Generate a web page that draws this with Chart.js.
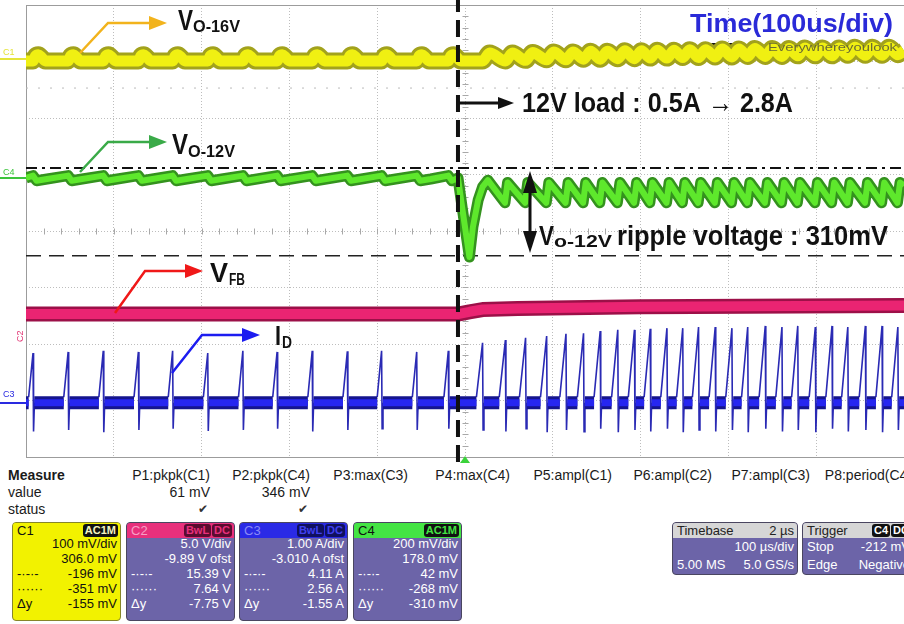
<!DOCTYPE html>
<html>
<head>
<meta charset="utf-8">
<script src="https://cdn.jsdelivr.net/npm/chart.js@4.4.1/dist/chart.umd.min.js"></script>
<style>
  body { margin: 0; width: 904px; height: 624px; overflow: hidden; background: #fff; position: relative;
         font-family: 'Liberation Sans', Arial, sans-serif; }
  #scope { position: absolute; left: 0; top: 0; }
  .lbl { position: absolute; font-size: 14px; line-height: 16px; color: #1a1a1a; white-space: nowrap; }
  .col { position: absolute; width: 110px; text-align: right; font-size: 14px; line-height: 16px; color: #1a1a1a; white-space: nowrap; }
  .chk { font-family: 'DejaVu Sans', sans-serif; font-size: 12px; color: #333; }
  .box { position: absolute; top: 522px; box-sizing: border-box; border: 1px solid #4a4660; border-radius: 4px;
         background: #6c64a8; color: #fff; font-size: 13px; overflow: hidden; }
  .hd { position: absolute; left: 0; right: 0; top: 0; height: 15px; line-height: 15px; }
  .hd .nm { position: absolute; left: 4px; top: 0; }
  .tags { position: absolute; right: 2px; top: 1px; display: flex; gap: 1px; }
  .tag { font-size: 11px; line-height: 13px; padding: 0 2px; border-radius: 3px; font-weight: bold; }
  .row { position: absolute; left: 4px; right: 3px; height: 15px; line-height: 15px; white-space: nowrap; }
  .row .l { position: absolute; left: 0; }
  .row .r { position: absolute; right: 0; }
</style>
</head>
<body>
<canvas id="scope" width="904" height="464"></canvas>
<div id="panel"></div>
<script>
// time base 100 us/div, 10 div across, t = 0 at screen centre; vertical in divisions
const timeMin = -500, timeMax = 500;
const divMin = -4, divMax = 4;

const swBefore = [-492, -452, -412, -372, -333, -293, -253, -214, -174, -134, -95, -55, -19];
const swAfter = [20, 46, 69, 93, 115, 135, 154, 174, 193, 211, 230, 248, 266, 285, 304, 322, 342, 361, 379, 399, 418, 436, 456, 475, 493];
const stepTime = -8; // 12V load 0.5A -> 2.8A

// C1 : Vo-16V
const c1Level = 3.01;
const c1BumpT = [0, 3, 6, 10, 14];
const c1BumpV = [0, 0.09, 0.11, 0.06, 0];
const c1LevelAfter = [3.08, 3.08, 3.09, 3.10, 3.10, 3.11, 3.11, 3.12, 3.12, 3.13, 3.13, 3.14, 3.14, 3.15, 3.15, 3.16, 3.16, 3.16, 3.17, 3.17, 3.17, 3.18, 3.18, 3.18, 3.19];
const c1ZigT = [0, 8];
const c1ZigV = [-0.07, 0.07];

// C4 : Vo-12V
const c4Level = 0.94;
const c4ToothT = [0, 4, 16];
const c4ToothV = [0.04, -0.05, -0.02];
const c4StepT = [-8, -3, 5, 9, 15, 20, 26];
const c4StepV = [0.94, 0.39, -0.46, 0.07, 0.55, 0.78, 0.90];
const c4SawT = [-0.5, 2.5];
const c4SawV = [0.50, 0.86];
const c4End = 0.80;

// C2 : VFB
const c2T = [-500, -8, 5, 20, 60, 200, 500];
const c2V = [-1.47, -1.47, -1.43, -1.39, -1.37, -1.34, -1.32];

// C3 : ID
const c3Base = -3.04;
const c3PeakBefore = [-2.16, -2.14, -2.12, -2.14, -2.12, -2.16, -2.12, -2.14, -2.12, -2.13, -2.12, -2.14, -2.12];
const c3DipBefore = [-3.55, -3.52, -3.56, -3.52, -3.50, -3.54, -3.52, -3.50, -3.55, -3.52, -3.50, -3.52, -3.50];
const c3PeakAfter = [-1.98, -1.93, -1.89, -1.86, -1.82, -1.81, -1.77, -1.75, -1.75, -1.73, -1.72, -1.72, -1.70, -1.70, -1.72, -1.70, -1.68, -1.70, -1.68, -1.70, -1.68, -1.70, -1.68, -1.68, -1.70];
const c3DipAfter = [-3.52, -3.55, -3.50, -3.56, -3.52, -3.55, -3.50, -3.56, -3.52, -3.55, -3.50, -3.56, -3.52, -3.55, -3.52, -3.56, -3.50, -3.55, -3.52, -3.56, -3.50, -3.55, -3.52, -3.56, -3.52];
const c3RampBefore = 5, c3RampAfter = 7;

// cursors (div)
const cursorDashDot = 1.115;
const cursorDashed = -0.44;
const cursorDotted = 2.53;

function c1Points() {
  const p = [{x: timeMin, y: c1Level}];
  swBefore.forEach(s => c1BumpT.forEach((dt, k) => p.push({x: s + dt, y: c1Level + c1BumpV[k]})));
  swAfter.forEach((s, i) => c1ZigT.forEach((dt, k) => {
    if (s + dt < timeMax) p.push({x: s + dt, y: c1LevelAfter[i] + c1ZigV[k]});
  }));
  p.push({x: timeMax, y: c1LevelAfter[c1LevelAfter.length - 1]});
  return p;
}

function c4Points() {
  const p = [{x: timeMin, y: c4Level}];
  swBefore.forEach(s => c4ToothT.forEach((dt, k) => {
    if (s + dt < c4StepT[0]) p.push({x: s + dt, y: c4Level + c4ToothV[k]});
  }));
  c4StepT.forEach((t, k) => p.push({x: t, y: c4StepV[k]}));
  swAfter.slice(1).forEach(s => c4SawT.forEach((dt, k) => p.push({x: s + dt, y: c4SawV[k]})));
  p.push({x: timeMax, y: c4End});
  return p;
}

function c3Pulses() {
  const p = [];
  const add = (s, ramp, peak, dip) => {
    p.push({x: s - ramp, y: c3Base + 0.1}, {x: s, y: peak}, {x: s + 0.6, y: dip},
           {x: s + 1.6, y: c3Base}, {x: s + 1.7, y: null});
  };
  swBefore.forEach((s, i) => add(s, c3RampBefore, c3PeakBefore[i], c3DipBefore[i]));
  swAfter.forEach((s, i) => add(s, c3RampAfter, c3PeakAfter[i], c3DipAfter[i]));
  return p;
}

function c3Band() {
  const ev = swBefore.map(s => [s, c3RampBefore]).concat(swAfter.map(s => [s, c3RampAfter]));
  const p = [{x: timeMin, y: c3Base}];
  ev.forEach(([s, r]) => {
    p.push({x: s - r, y: c3Base}, {x: s - r + 0.1, y: null}, {x: s + 1.5, y: c3Base});
  });
  p.push({x: timeMax, y: c3Base});
  return p;
}

const hline = v => [{x: timeMin, y: v}, {x: timeMax, y: v}];

function trace(data, color, width, order, extra) {
  return Object.assign({data, borderColor: color, borderWidth: width, pointRadius: 0,
    fill: false, tension: 0, order, spanGaps: false, borderCapStyle: 'butt', borderJoinStyle: 'round'}, extra || {});
}

const yellowPts = c1Points(), greenPts = c4Points();
const pinkPts = c2T.map((t, i) => ({x: t, y: c2V[i]}));
const bandPts = c3Band(), pulsePts = c3Pulses();
const smooth = {cubicInterpolationMode: 'monotone'};

const datasets = [
  trace([{x: stepTime, y: -4.09}, {x: stepTime, y: 4.09}], '#111', 4, 0, {borderDash: [17, 8], clip: false}),
  trace(yellowPts, '#f0f012', 11, 2, smooth),
  trace(yellowPts, '#a2a21c', 17, 3, smooth),
  trace(greenPts, '#5ee82c', 6, 2),
  trace(greenPts, '#34921e', 11, 3),
  trace(pinkPts, '#ea2472', 10, 2),
  trace(pinkPts, '#9c1048', 15, 3),
  trace(bandPts, '#2626f0', 7, 2),
  trace(bandPts, '#15158e', 13, 3),
  trace(pulsePts, '#2a2ab4', 1.6, 4, {borderJoinStyle: 'miter'}),
  trace(hline(cursorDashDot), '#111', 2, 9, {borderDash: [11, 5, 3, 5]}),
  trace(hline(cursorDashed), '#222', 1.5, 9, {borderDash: [15, 8]}),
  trace(hline(cursorDotted), '#bbb', 1, 9, {borderDash: [2, 10]})
];

const FONT = "'Liberation Sans Narrow', 'Liberation Sans', Arial, sans-serif";

function fitText(ctx, str, x, y, w, font, color) {
  ctx.save();
  ctx.font = font;
  ctx.fillStyle = color;
  ctx.textBaseline = 'alphabetic';
  const m = ctx.measureText(str).width;
  ctx.translate(x, y);
  ctx.scale(w / m, 1);
  ctx.fillText(str, 0, 0);
  ctx.restore();
}

function arrow(ctx, pts, color, lw, len, half, both) {
  ctx.save();
  ctx.strokeStyle = color; ctx.fillStyle = color; ctx.lineWidth = lw;
  const head = (a, b) => {
    const ang = Math.atan2(b[1] - a[1], b[0] - a[0]);
    const bx = b[0] - len * Math.cos(ang), by = b[1] - len * Math.sin(ang);
    ctx.beginPath();
    ctx.moveTo(b[0], b[1]);
    ctx.lineTo(bx + half * Math.sin(ang), by - half * Math.cos(ang));
    ctx.lineTo(bx - half * Math.sin(ang), by + half * Math.cos(ang));
    ctx.closePath(); ctx.fill();
    return [bx, by];
  };
  const n = pts.length;
  const end = head(pts[n - 2], pts[n - 1]);
  const start = both ? head(pts[1], pts[0]) : pts[0];
  ctx.beginPath();
  ctx.moveTo(start[0], start[1]);
  for (let i = 1; i < n - 1; i++) ctx.lineTo(pts[i][0], pts[i][1]);
  ctx.lineTo(end[0], end[1]);
  ctx.stroke();
  ctx.restore();
}

const scopeDecor = {
  id: 'scopeDecor',
  beforeDatasetsDraw(chart) {
    const {ctx, chartArea: a, scales: {x, y}} = chart;
    ctx.save();
    ctx.strokeStyle = '#a8a8a8'; ctx.lineWidth = 1;
    const cx = Math.round(x.getPixelForValue(0)) + 0.5, cy = Math.round(y.getPixelForValue(0)) + 0.5;
    ctx.beginPath();
    for (let v = divMin; v <= divMax; v += 0.2) {
      const py = Math.round(y.getPixelForValue(v)) + 0.5;
      ctx.moveTo(cx - 3, py); ctx.lineTo(cx + 3, py);
    }
    for (let t = timeMin; t <= timeMax; t += 20) {
      const px = Math.round(x.getPixelForValue(t)) + 0.5;
      ctx.moveTo(px, cy - 3); ctx.lineTo(px, cy + 3);
    }
    ctx.stroke();
    ctx.strokeStyle = '#9c9c9c';
    ctx.strokeRect(a.left + 0.5, a.top + 0.5, a.width, a.height);
    // black trigger-position marks
    ctx.fillStyle = '#111';
    ctx.beginPath();
    ctx.moveTo(711, 43); ctx.lineTo(725, 43); ctx.lineTo(718, 51); ctx.closePath();
    ctx.moveTo(728, 43); ctx.lineTo(742, 43); ctx.lineTo(735, 51); ctx.closePath();
    ctx.fill();
    ctx.restore();
  },
  afterDatasetsDraw(chart) {
    const {ctx, scales: {x}} = chart;
    // channel markers on the left edge
    ctx.save();
    ctx.lineWidth = 2;
    [['C1', '#e4e43a', 59, 55], ['C4', '#3cc43c', 178, 175], ['C3', '#2a2ae0', 403, 397]].forEach(([t, c, ly, ty]) => {
      ctx.strokeStyle = c; ctx.beginPath(); ctx.moveTo(0, ly); ctx.lineTo(26, ly); ctx.stroke();
      ctx.fillStyle = c; ctx.font = '9px ' + FONT; ctx.fillText(t, 3, ty);
    });
    ctx.fillStyle = '#e03070'; ctx.translate(23, 342); ctx.rotate(-Math.PI / 2);
    ctx.font = '9px ' + FONT; ctx.fillText('C2', 0, 0);
    ctx.restore();
    ctx.save();
    ctx.fillStyle = '#3ad23a';
    const tx = x.getPixelForValue(0);
    ctx.beginPath(); ctx.moveTo(tx - 5, 463); ctx.lineTo(tx + 5, 463); ctx.lineTo(tx, 456); ctx.closePath(); ctx.fill();
    ctx.restore();

    fitText(ctx, 'Everywhereyoulook', 768, 51, 129, '11px ' + FONT, '#6a6a34');
    fitText(ctx, 'Time(100us/div)', 690, 32, 203, 'bold 25px ' + FONT, '#2a2ad8');

    // trace labels with pointer arrows
    arrow(ctx, [[80, 53], [108, 23], [167, 23]], '#f2b31c', 2.5, 18, 7);
    fitText(ctx, 'V', 178, 30, 15, 'bold 30px ' + FONT, '#111');
    fitText(ctx, 'O-16V', 193, 32, 47, 'bold 16px ' + FONT, '#111');

    arrow(ctx, [[80, 172], [108, 142], [167, 142]], '#3aaa48', 2.5, 18, 7);
    fitText(ctx, 'V', 172, 154, 16, 'bold 30px ' + FONT, '#111');
    fitText(ctx, 'O-12V', 188, 157, 47, 'bold 16px ' + FONT, '#111');

    arrow(ctx, [[115, 313], [145, 271], [203, 271]], '#f01818', 2.5, 18, 7);
    fitText(ctx, 'V', 210, 282, 18, 'bold 28px ' + FONT, '#111');
    fitText(ctx, 'FB', 229, 285, 16, 'bold 16px ' + FONT, '#111');

    arrow(ctx, [[172, 373], [202, 335], [260, 335]], '#1c1cf0', 2.5, 18, 7);
    fitText(ctx, 'I', 275, 345, 6, 'bold 28px ' + FONT, '#111');
    fitText(ctx, 'D', 282, 348, 10, 'bold 16px ' + FONT, '#111');

    arrow(ctx, [[459, 103], [514, 103]], '#111', 3, 16, 6);
    fitText(ctx, '12V load : 0.5A \u2192 2.8A', 522, 112, 271, 'bold 28px ' + FONT, '#111');

    arrow(ctx, [[530, 171], [530, 253]], '#111', 3, 22, 7, true);
    fitText(ctx, 'V', 539, 245, 15, 'bold 28px ' + FONT, '#111');
    fitText(ctx, 'o-12V', 554, 247, 58, 'bold 17px ' + FONT, '#111');
    fitText(ctx, 'ripple voltage : 310mV', 617, 245, 271, 'bold 28px ' + FONT, '#111');
  }
};

new Chart(document.getElementById('scope'), {
  type: 'line',
  data: {datasets},
  options: {
    responsive: false,
    animation: false,
    devicePixelRatio: 1,
    layout: {padding: {left: 26, top: 5, right: 0, bottom: 7}},
    plugins: {legend: {display: false}, tooltip: {enabled: false}},
    scales: {
      x: {type: 'linear', min: timeMin, max: timeMax,
          ticks: {display: false, stepSize: 100},
          grid: {color: '#bdbdbd', drawTicks: false},
          border: {display: false, dash: [1, 2]}},
      y: {type: 'linear', min: divMin, max: divMax,
          ticks: {display: false, stepSize: 1},
          grid: {color: '#bdbdbd', drawTicks: false},
          border: {display: false, dash: [1, 2]}}
    }
  },
  plugins: [scopeDecor]
});

// ---- measurement / channel panel
const measNames = ['P1:pkpk(C1)', 'P2:pkpk(C4)', 'P3:max(C3)', 'P4:max(C4)', 'P5:ampl(C1)', 'P6:ampl(C2)', 'P7:ampl(C3)', 'P8:period(C4)'];
const measValues = ['61 mV', '346 mV', '', '', '', '', '', ''];
const measOk = [true, true, false, false, false, false, false, false];
const measRight = [210, 310, 408, 510, 612, 712, 810, 912];

const chanBoxes = [
  {name: 'C1', left: 12, hdr: '#f2f200', body: '#f2f200', txt: '#111', nameColor: '#111', border: '#86862a',
   tags: [['AC1M', '#111', '#f4f4c0']],
   rows: [['', '100 mV/div'], ['', '306.0 mV'], ['-\u00b7-\u00b7-', '-196 mV'], ['\u00b7\u00b7\u00b7\u00b7\u00b7\u00b7', '-351 mV'], ['\u0394y', '-155 mV']]},
  {name: 'C2', left: 126, hdr: '#e8307c', body: '#6c64a8', txt: '#fff', nameColor: '#f6a0c6', border: '#4a4660',
   tags: [['BwL', '#5a0c30', '#e8307c'], ['DC', '#5a0c30', '#e8307c']],
   rows: [['', '5.0 V/div'], ['', '-9.89 V ofst'], ['-\u00b7-\u00b7-', '15.39 V'], ['\u00b7\u00b7\u00b7\u00b7\u00b7\u00b7', '7.64 V'], ['\u0394y', '-7.75 V']]},
  {name: 'C3', left: 239, hdr: '#2a2ae6', body: '#6c64a8', txt: '#fff', nameColor: '#8a8af6', border: '#4a4660',
   tags: [['BwL', '#10105e', '#4040f0'], ['DC', '#10105e', '#4040f0']],
   rows: [['', '1.00 A/div'], ['', '-3.010 A ofst'], ['-\u00b7-\u00b7-', '4.11 A'], ['\u00b7\u00b7\u00b7\u00b7\u00b7\u00b7', '2.56 A'], ['\u0394y', '-1.55 A']]},
  {name: 'C4', left: 353, hdr: '#44e444', body: '#6c64a8', txt: '#fff', nameColor: '#111', border: '#4a4660',
   tags: [['AC1M', '#111', '#44e444']],
   rows: [['', '200 mV/div'], ['', '178.0 mV'], ['-\u00b7-\u00b7-', '42 mV'], ['\u00b7\u00b7\u00b7\u00b7\u00b7\u00b7', '-268 mV'], ['\u0394y', '-310 mV']]}
];
const infoBoxes = [
  {name: 'Timebase', left: 672, width: 126, right: '2 \u00b5s', tags: [],
   rows: [['', '100 \u00b5s/div'], ['5.00 MS', '5.0 GS/s']]},
  {name: 'Trigger', left: 802, width: 112, right: '', tags: [['C4', '#111', '#fff'], ['DC', '#111', '#fff']],
   rows: [['Stop', '-212 mV'], ['Edge', 'Negative']]}
];

const panel = document.getElementById('panel');
const el = (html) => { const d = document.createElement('div'); d.innerHTML = html; return d.firstChild; };

panel.appendChild(el('<div class="lbl" style="left:8px;top:467px;font-weight:bold">Measure</div>'));
panel.appendChild(el('<div class="lbl" style="left:8px;top:484px">value</div>'));
panel.appendChild(el('<div class="lbl" style="left:8px;top:501px">status</div>'));
measNames.forEach((n, i) => {
  const l = measRight[i] - 110;
  panel.appendChild(el(`<div class="col" style="left:${l}px;top:467px">${n}</div>`));
  if (measValues[i]) panel.appendChild(el(`<div class="col" style="left:${l}px;top:484px">${measValues[i]}</div>`));
  if (measOk[i]) panel.appendChild(el(`<div class="col chk" style="left:${l - 2}px;top:501px">\u2714</div>`));
});

const tagHtml = tags => '<div class="tags">' + tags.map(([t, bg, fg]) =>
  `<span class="tag" style="background:${bg};color:${fg}">${t}</span>`).join('') + '</div>';

chanBoxes.forEach(b => {
  const rows = b.rows.map((r, i) =>
    `<div class="row" style="top:${13 + 15 * i}px;color:${b.txt}"><span class="l">${r[0]}</span><span class="r">${r[1]}</span></div>`).join('');
  panel.appendChild(el(`<div class="box" style="left:${b.left}px;width:109px;height:99px;background:${b.body};border-color:${b.border}">
    <div class="hd" style="background:${b.hdr}"><span class="nm" style="color:${b.nameColor}">${b.name}</span>${tagHtml(b.tags)}</div>${rows}</div>`));
});

infoBoxes.forEach(b => {
  const rows = b.rows.map((r, i) =>
    `<div class="row" style="top:${16 + 18 * i}px"><span class="l">${r[0]}</span><span class="r">${r[1]}</span></div>`).join('');
  panel.appendChild(el(`<div class="box" style="left:${b.left}px;width:${b.width}px;height:53px">
    <div class="hd" style="background:#d6d6d6;color:#222"><span class="nm">${b.name}</span>
    <span style="position:absolute;right:3px">${b.right}</span>${tagHtml(b.tags)}</div>${rows}</div>`));
});
</script>
</body>
</html>
